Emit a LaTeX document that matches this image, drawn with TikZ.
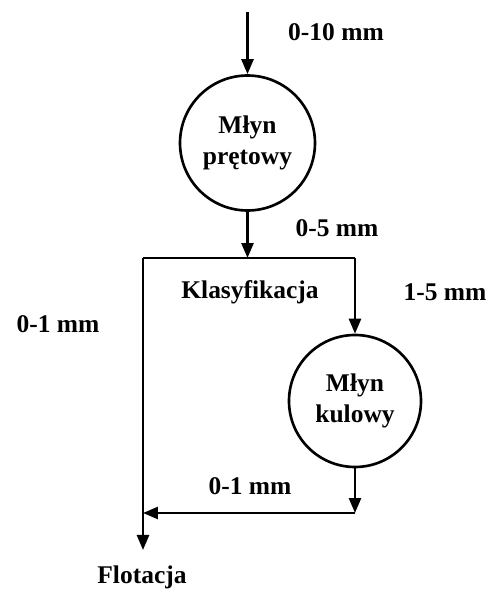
\documentclass[tikz,border=0pt]{standalone}
\usepackage{fontspec}
\setmainfont{Liberation Serif}
\usetikzlibrary{arrows.meta}

\begin{document}
\begin{tikzpicture}[line width=1.5pt]
\tikzset{ >={Triangle[length=0.3cm,width=0.24cm]},
  mill/.style={draw, circle, minimum size=2.7cm, inner sep=0pt, align=center,
    font=\fontsize{14.5}{17.5}\selectfont\bfseries},
  lbl/.style={font=\fontsize{14.5}{17.5}\selectfont\bfseries, inner sep=0pt},
}

\useasboundingbox (0,0) rectangle (10,11.82);

%%% Bloki

% Mlyn pretowy
\node [mill] (MP) at (4.95,8.96) {Młyn\\prętowy};

% Mlyn kulowy
\node [mill, minimum size=2.64cm] (MK) at (7.1,3.8) {Młyn\\kulowy};

% Klasyfikacja
\coordinate (KLl) at (2.86,6.66);
\coordinate (KLm) at (4.95,6.66);
\coordinate (KLr) at (7.1,6.66);
\node [lbl] (klas) at (5.0,5.98) {Klasyfikacja};

% punkty
\coordinate (in)  at (4.95,11.58);
\coordinate (J1)  at (7.1,1.56);
\coordinate (J2)  at (2.86,1.56);
\coordinate (out) at (2.86,0.82);

%%% Linie

% nadawa -> mlyn pretowy
\draw [->] (in) -- (MP);
\node [lbl] (n010) at (6.72,11.18) {0-10 mm};

% mlyn pretowy -> klasyfikacja
\draw [->] (MP) -- (KLm);
\node [lbl] (n05) at (6.74,7.26) {0-5 mm};
\draw (KLl) -- (KLr);

% klasyfikacja -> mlyn kulowy
\draw [->] (KLr) -- (MK);
\node [lbl] (n15) at (8.9,5.98) {1-5 mm};

% klasyfikacja -> flotacja
\draw [->] (KLl) -- (out);
\node [lbl] (n01a) at (1.16,5.34) {0-1 mm};
\node [lbl] (flot) at (2.84,0.27) {Flotacja};

% mlyn kulowy -> flotacja
\draw [->] (MK) -- (J1);
\draw [->] (J1) -- (J2);
\node [lbl] (n01b) at (5.0,2.1) {0-1 mm};

\end{tikzpicture}
\end{document}
